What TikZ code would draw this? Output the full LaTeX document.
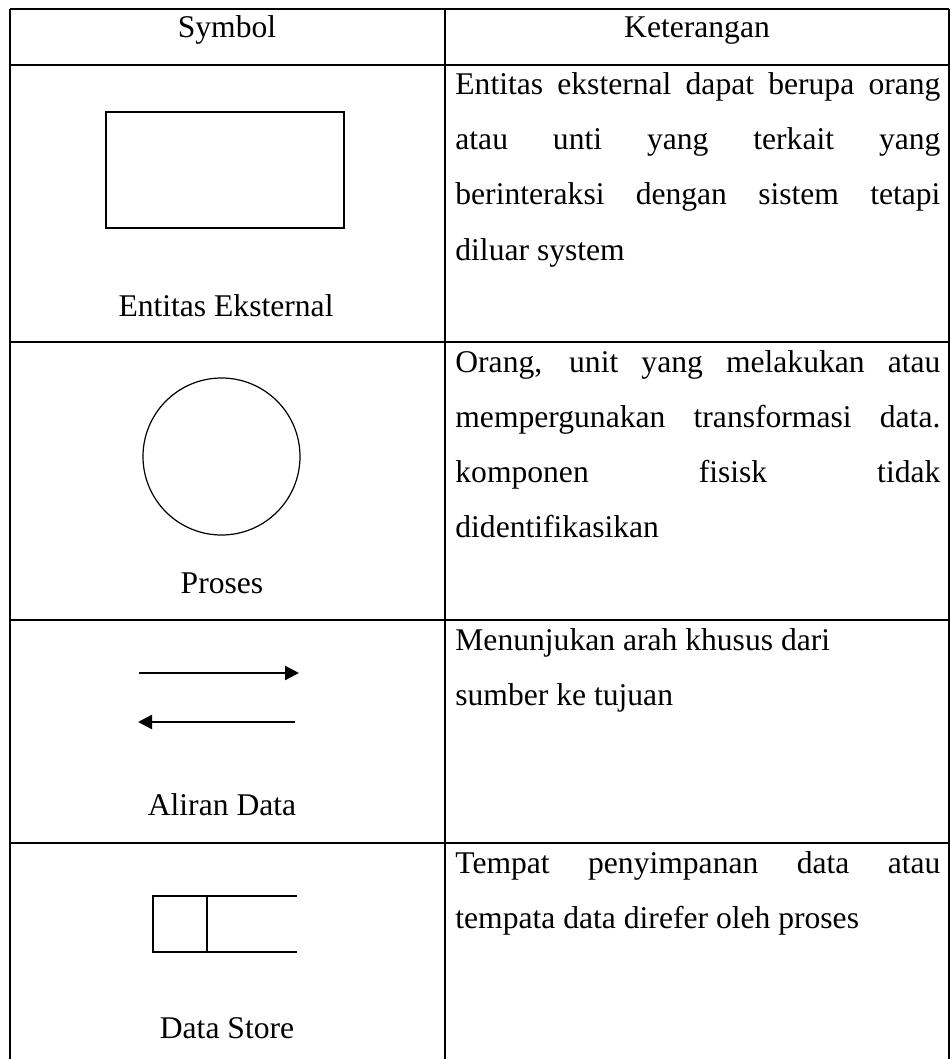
\documentclass[tikz,border=0pt]{standalone}
\usepackage{fontspec}
\setmainfont{Liberation Serif}
\usetikzlibrary{arrows.meta}

\newlength{\colw}
\setlength{\colw}{242.5pt}
% baris rata kiri-kanan
\newcommand{\jline}[1]{\makebox[\colw][s]{#1}}

\tikzset{
    grid line/.style={line width=1pt},
    teks/.style={inner sep=0pt, font=\fontsize{15.8}{19}\selectfont},
    ket/.style={teks, anchor=base west},
    lbl/.style={teks, anchor=base},
    flow/.style={line width=1.2pt, -{Triangle[length=7pt,width=7pt]}}
}

\begin{document}
\begin{tikzpicture}[x=0.5pt, y=-0.5pt]
    \useasboundingbox (0,0) rectangle (950,1059);

    % Garis tabel
    \draw[grid line] (10,9) -- (949,9);
    \foreach \y in {65,342,620,843}
        \draw[grid line] (10,\y) -- (949,\y);
    \foreach \x in {10,445,949}
        \draw[grid line] (\x,9) -- (\x,1060);

    % Judul kolom
    \node[lbl] (hsym) at (227,38) {Symbol};
    \node[lbl] (hket) at (697,38) {Keterangan};

    % Entitas eksternal
    \draw[line width=1pt] (106,112) rectangle (344,228);
    \node[lbl] (lent) at (226,316) {Entitas Eksternal};
    \node[ket] (k1a) at (455,95) {\jline{Entitas eksternal dapat berupa orang}};
    \node[ket] (k1b) at (455,150) {\jline{atau unti yang terkait yang}};
    \node[ket] (k1c) at (455,205) {\jline{berinteraksi dengan sistem tetapi}};
    \node[ket] (k1d) at (455,260) {diluar system};

    % Proses
    \draw[line width=0.6pt] (221.5,456.5) circle (39.25pt);
    \node[lbl] (lpro) at (222,593) {Proses};
    \node[ket] (k2a) at (455,372) {\jline{Orang, unit yang melakukan atau}};
    \node[ket] (k2b) at (455,427) {\jline{mempergunakan transformasi data.}};
    \node[ket] (k2c) at (455,482) {\jline{komponen fisisk tidak}};
    \node[ket] (k2d) at (455,537) {didentifikasikan};

    % Aliran data
    \coordinate (a1) at (139,673);
    \coordinate (a2) at (299,673);
    \coordinate (b1) at (295,722);
    \coordinate (b2) at (138,722);
    \draw[flow] (a1) -- (a2);
    \draw[flow] (b1) -- (b2);
    \node[lbl] (lali) at (222,815) {Aliran Data};
    \node[ket] (k3a) at (455,650) {Menunjukan arah khusus dari};
    \node[ket] (k3b) at (455,705) {sumber ke tujuan};

    % Data store
    \draw[line width=0.7pt] (297,896) -- (153,896) -- (153,952) -- (297,952);
    \draw[line width=0.7pt] (207,896) -- (207,952);
    \node[lbl] (ldat) at (227,1038) {Data Store};
    \node[ket] (k4a) at (455,873) {\jline{Tempat penyimpanan data atau}};
    \node[ket] (k4b) at (455,928) {tempata data direfer oleh proses};
\end{tikzpicture}
\end{document}
